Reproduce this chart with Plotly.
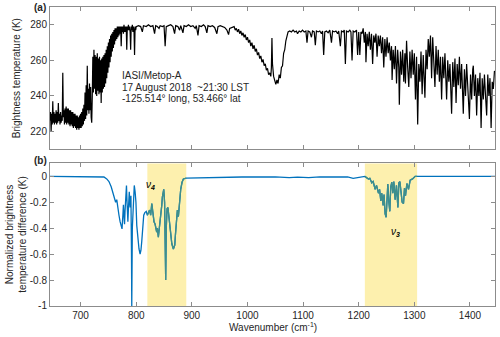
import numpy as np
import plotly.graph_objects as go

# ---------------- data ----------------
# (a) brightness temperature spectrum, CO2 band region 645-800 cm-1
co2_wn = [645,646,647,648,649,650,651,652,653,654,655,656,657,658,659,660,661,662,663,664,665,666,667,
          668,669,670,671,672,673,674,675,676,677,678,679,680,681,682,683,684,685,686,687,688,689,690,
          691,692,693,694,695,696,697,698,699,700,701,702,703,704,705,706,707,708,709,710,711,712,713,
          714,715,716,717,718,719,720,721,722,723,724,725,726,727,728,729,730,731,732,733,734,735,736,
          737,738,739,740,741,742,743,744,745,746,747,748,749,750,751,752,753,754,755,756,757,758,759,
          760,761,762,763,764,765,766,767,768,769,770,771,772,773,774,775,776,777,778,779,780,781,782,
          783,784,785,786,787,788,789,790,791,792,793,794,795,796,797,798,799]
co2_tb = [226,231,220,230,224,237,225,231,224,230,225,232,224,231,225,236,226,230,224,231,225,229,226,
          253,228,232,224,233,225,234,224,233,225,233,224,232,223,232,224,231,223,231,222,230,223,230,
          222,229,221,229,222,228,221,229,222,230,222,231,223,233,224,235,226,242,227,246,229,257,232,
          244,230,247,232,245,228,225,240,262,242,266,244,263,241,262,240,264,243,261,241,262,242,260,
          236,261,242,262,244,263,245,264,247,266,250,268,253,270,256,272,259,274,262,275,265,276,267,
          277,269,278,271,278,272,279,273,279,274,279,275,279,268,279,276,279,275,280,276,279,276,279,
          266,279,277,280,277,279,276,266,279,277,280,276,279,277,263,279,277]

# (a) window / ozone region 800-1200 cm-1
win_wn = [800,804,808,811,813,818,822,826,830,833,835,838,841,843,847,850,852,854,858,862,866,869,871,
          875,878,880,884,886,890,894,898,902,906,908,911,913,917,921,924,927,929,933,937,941,945,947,
          951,955,959,963,966,968,972,976,978,980,982,984,986,988,990,992,994,996,998,1000,1002,1004,
          1006,1008,1010,1012,1014,1016,1018,1020,1022,1024,1026,1028,1030,1032,1034,1036,1038,1040,
          1042,1043,1044,1045,1047,1049,1051,1053,1055,1057,1059,1061,1063,1065,1067,1069,1071,1073,
          1076,1079,1082,1085,1088,1090,1093,1096,1099,1102,1105,1107,1109,1112,1115,1117,1120,1122,
          1124,1127,1130,1133,1135,1137,1139,1142,1145,1148,1151,1153,1156,1159,1162,1164,1167,1169,
          1172,1174,1176,1178,1181,1184,1186,1188,1190,1193,1196,1198]
win_tb = [279,279.5,279,276,279.5,279,280,279,279.5,275,279.5,279,278,279.5,279,279.5,268,279,279.5,280,
          279,275,279.5,279,277,279.5,275.5,279.5,279,280,279,279.5,278,279.5,274,279.5,279,280,279,275.5,
          279.5,279,279.5,278.5,275,279,279.5,279,278.5,277,274.5,278,278.5,279,277,278,276,277.5,275,
          276.5,274,275.5,273,274.5,271.5,273,270,271.5,268,270,266.5,268.5,265,266.5,263,264.5,261,262.5,
          259,260.5,257,258,254.5,255.5,252,253,251,256,272.5,258,251,249,246.5,249,247,252,250,256,257,
          264,266,271,273,276,276.5,276,277,276,276.5,275,276.5,276,277,276,276.5,270,276.5,276,273,276.5,
          276,268.5,276.5,276,276.5,275,276.5,263,276,276.5,275.5,277,270,276.5,276,276.5,275,276.5,268,
          276.5,276,277,258,276.5,276,277,276,260,276.5,276,277,263]

# (a) water-vapour region 1200-1445 cm-1
h2o_wn = [1200,1202,1204,1206,1208,1210,1212,1213,1215,1217,1219,1221,1223,1225,1227,1229,1231,1233,
          1235,1237,1239,1241,1243,1245,1247,1249,1251,1253,1255,1257,1259,1260,1262,1264,1266,1268,
          1270,1272,1273,1275,1277,1279,1281,1283,1284,1286,1288,1290,1292,1294,1296,1298,1300,1302,
          1304,1306,1308,1310,1312,1314,1316,1318,1319,1321,1323,1325,1327,1329,1331,1333,1335,1337,
          1339,1341,1343,1345,1347,1349,1351,1353,1355,1357,1358,1360,1362,1364,1366,1367,1369,1371,
          1373,1375,1377,1379,1381,1383,1385,1387,1388,1390,1392,1394,1396,1398,1399,1401,1403,1405,
          1406,1408,1410,1412,1414,1416,1418,1420,1422,1424,1426,1428,1430,1432,1434,1436,1438,1440,
          1442,1444,1445]
h2o_tb = [276,263,276,275,278,270,276,259,275,268,276,266,275,258,274,270,275,262,274,268,274,264,273,
          256,272,262,273,264,270,260,268,249,266,255,268,247,266,256,235,265,252,266,248,264,247,271,
          256,245,265,250,266,252,264,238,262,224,258,248,265,241,263,250,239,266,255,272,262,274,250,
          273,255,245,268,252,266,248,262,238,262,250,264,245,238,260,248,258,240,230,259,245,261,236,
          258,246,262,244,258,240,230,255,240,258,243,235,227,252,238,255,257,240,252,229,250,240,253,
          222,250,238,252,240,229,252,240,250,222,248,244,254,253]

# (b) normalized brightness temperature difference
nd_wn = [645,700,735,742,747,751,755,758,761,763,765,767,769,771,773,774.5,776,777,778,779,780,781.5,
         782.5,783.5,785,786,787.5,789,790.5,791.5,792,793,794.5,796.5,798,799.5,801,803,805,807,808.5,
         810,812,813.5,815.5,818,820,822,824,826,828,830,832,834,836.8,838,839.8,841.5,844,846,847,
         849.5,851,852,853,854,855.5,857,858.5,860.8,862,864,866.8,869.3,870.5,871.6,873,874,875.8,
         877.6,880,882.4,884.8,890,900,930,960,990,1050,1060,1075,1090,1110,1130,1160,1180,1190,1200,
         1205,1211,1214,1217.5,1220,1223.5,1226,1229.5,1232,1235.5,1237.5,1239.7,1241.5,1243.9,1245.5,
         1247.5,1249.3,1250.8,1252.3,1254,1255.9,1257.6,1259.5,1261.3,1263.1,1265.5,1267.9,1270.4,
         1272.2,1274,1276.3,1278.1,1280.5,1282.3,1284.1,1286.6,1289.5,1292.5,1296.7,1301.5,1305,1330,
         1445]
nd_val = [0,0,0,-0.005,-0.02,-0.04,-0.08,-0.13,-0.16,-0.2,-0.18,-0.26,-0.3,-0.35,-0.38,-0.405,-0.3,
          -0.22,-0.3,-0.37,-0.26,-0.15,-0.07,-0.2,-0.35,-0.25,-0.12,-0.24,-0.15,-0.6,-1.0,-0.4,-0.18,
          -0.07,-0.12,-0.2,-0.38,-0.5,-0.56,-0.6,-0.57,-0.5,-0.38,-0.3,-0.28,-0.27,-0.3,-0.27,-0.26,
          -0.3,-0.21,-0.28,-0.35,-0.37,-0.43,-0.4,-0.47,-0.4,-0.32,-0.22,-0.16,-0.1,-0.2,-0.45,-0.8,
          -0.4,-0.25,-0.24,-0.3,-0.38,-0.45,-0.52,-0.56,-0.53,-0.45,-0.36,-0.32,-0.26,-0.31,-0.2,-0.1,
          -0.046,-0.02,-0.013,-0.012,-0.01,-0.007,-0.005,-0.004,-0.006,-0.01,-0.006,-0.01,-0.004,-0.003,
          -0.005,-0.015,-0.01,-0.005,0,-0.01,-0.02,-0.015,-0.05,-0.04,-0.1,-0.07,-0.13,-0.1,-0.19,-0.13,
          -0.225,-0.14,-0.29,-0.315,-0.22,-0.06,-0.19,-0.27,-0.08,-0.045,-0.13,-0.04,-0.18,-0.07,-0.24,
          -0.05,-0.04,-0.13,-0.2,-0.21,-0.09,-0.15,-0.055,-0.1,-0.03,-0.02,0,0,0,0]

bands = [(820, 890), (1211, 1305)]   # nu4 and nu3 regions (cm-1)

x_ticks = [700, 800, 900, 1000, 1100, 1200, 1300, 1400]
y1_ticks = [220, 240, 260, 280]
y2_ticks = [-1, -0.8, -0.6, -0.4, -0.2, 0]
y2_labels = ["-1", "-0.8", "-0.6", "-0.4", "-0.2", "0"]

info_lines = ["IASI/Metop-A", "17 August 2018  ~21:30 LST", "-125.514\u00b0 long, 53.466\u00b0 lat"]
info_y = [251.3, 245.0, 238.5]

# ---------------- figure ----------------
FONT = "Liberation Sans, Arial, Helvetica, sans-serif"
TXT = "#262626"
AX = "#8c8c8c"

tb_wn = co2_wn + win_wn + h2o_wn
tb_val = co2_tb + win_tb + h2o_tb

fig = go.Figure()
fig.add_trace(go.Scatter(x=tb_wn, y=tb_val, mode="lines", xaxis="x", yaxis="y",
                         line=dict(color="black", width=1.2), hoverinfo="skip"))
fig.add_trace(go.Scatter(x=nd_wn, y=nd_val, mode="lines", xaxis="x2", yaxis="y2",
                         line=dict(color="#0072BD", width=1.3), hoverinfo="skip"))

wn_arr = np.array(nd_wn)
val_arr = np.array(nd_val)
for lo, hi in bands:
    m = (wn_arr >= lo) & (wn_arr <= hi)
    fig.add_trace(go.Scatter(x=wn_arr[m], y=val_arr[m], mode="lines", xaxis="x2", yaxis="y2",
                             line=dict(color="#3f8f8a", width=1.3), hoverinfo="skip"))
    fig.add_shape(type="rect", xref="x2", yref="y2 domain", x0=lo, x1=hi, y0=0, y1=1,
                  fillcolor="#fdf0ae", line_width=0, layer="below")

axis_common = dict(showline=True, linecolor=AX, linewidth=1, mirror="ticks", ticks="inside",
                   ticklen=4, tickcolor=AX, showgrid=False, zeroline=False,
                   tickfont=dict(family=FONT, size=10, color=TXT))

fig.update_layout(
    width=500, height=337,
    margin=dict(l=50, r=5, t=7, b=31),
    paper_bgcolor="white", plot_bgcolor="white",
    showlegend=False,
    xaxis=dict(domain=[0, 1], range=[645, 1445], anchor="y", tickvals=x_ticks,
               showticklabels=False, **axis_common),
    yaxis=dict(domain=[0.524, 1], range=[210, 290], anchor="x", tickvals=y1_ticks, **axis_common),
    xaxis2=dict(domain=[0, 1], range=[645, 1445], anchor="y2", tickvals=x_ticks, **axis_common),
    yaxis2=dict(domain=[0, 0.477], range=[-1, 0.1], anchor="x2", tickvals=y2_ticks,
                ticktext=y2_labels, **axis_common),
)

ann = []
for txt, yy in zip(info_lines, info_y):
    ann.append(dict(x=770, y=yy, xref="x", yref="y", text=txt, showarrow=False,
                    xanchor="left", yanchor="middle", font=dict(family=FONT, size=10, color=TXT)))
ann += [
    dict(x=-0.022, y=1.0, xref="paper", yref="paper", text="<b>(a)</b>", showarrow=False,
         xanchor="center", yanchor="middle", font=dict(family=FONT, size=10, color=TXT)),
    dict(x=-0.022, y=(306 - 160) / 299, xref="paper", yref="paper", text="<b>(b)</b>", showarrow=False,
         xanchor="center", yanchor="middle", font=dict(family=FONT, size=10, color=TXT)),
    dict(x=(16 - 50) / 445, y=0.762, xref="paper", yref="paper", text="Brightness temperature (K)",
         textangle=-90, showarrow=False, xanchor="center", yanchor="middle",
         font=dict(family=FONT, size=10, color=TXT)),
    dict(x=(16 - 50) / 445, y=0.2385, xref="paper", yref="paper",
         text="Normalized brightness<br>temperature difference (K)",
         textangle=-90, showarrow=False, xanchor="center", yanchor="middle",
         font=dict(family=FONT, size=10, color=TXT)),
    dict(x=0.5, y=(306 - 327) / 299, xref="paper", yref="paper",
         text="Wavenumber (cm<sup>-1</sup>)", showarrow=False, xanchor="center", yanchor="middle",
         font=dict(family=FONT, size=10, color=TXT)),
    dict(x=826, y=-0.065, xref="x2", yref="y2", text="<i>\u03bd</i><sub><b><i>4</i></b></sub>",
         showarrow=False, xanchor="center", yanchor="middle", font=dict(family=FONT, size=10, color="black")),
    dict(x=1265.5, y=-0.43, xref="x2", yref="y2", text="<i>\u03bd</i><sub><b><i>3</i></b></sub>",
         showarrow=False, xanchor="center", yanchor="middle", font=dict(family=FONT, size=10, color="black")),
]
fig.update_layout(annotations=ann)

fig.write_html("out.html", config={"displayModeBar": False},
               post_script="document.body.style.margin='0px';document.body.style.overflow='hidden';")
